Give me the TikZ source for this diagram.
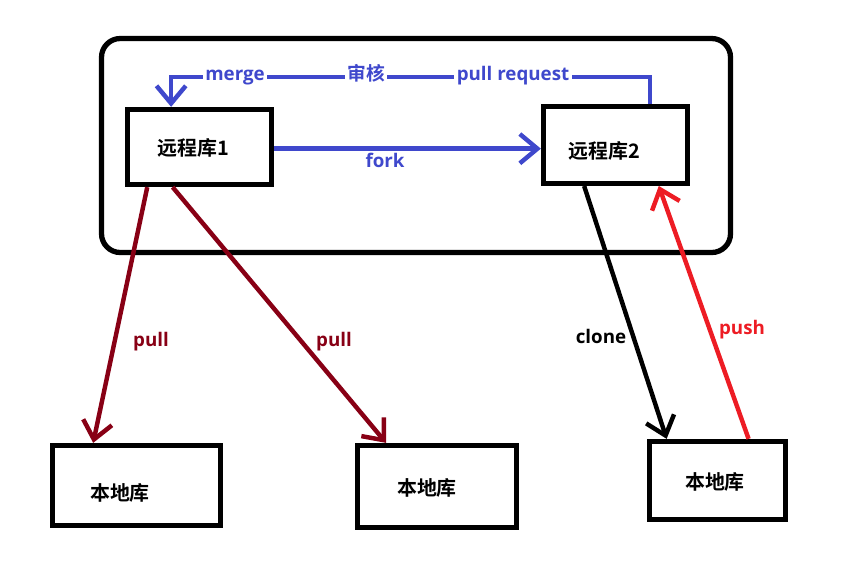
\documentclass[tikz,border=0pt]{standalone}
\usepackage{fontspec}
\setmainfont{Open Sans}
\newfontfamily\cjk{Noto Sans CJK SC}[BoldFont={Noto Sans CJK SC Bold}]
\usetikzlibrary{arrows.meta,calc}

\definecolor{gitblue}{RGB}{63,72,204}
\definecolor{pulldark}{RGB}{136,0,21}
\definecolor{pushred}{RGB}{237,28,36}

\tikzset{
  repo/.style={draw, line width=4.5pt, minimum width=#1*0.03cm, inner sep=0pt},
  repotext/.style={font=\cjk\bfseries\fontsize{17}{20}\selectfont},
  lbl/.style={font=\bfseries\fontsize{16}{19}\selectfont, inner sep=2pt, text height=1.6ex, text depth=.5ex},
  flow/.style={line width=3.8pt},
  barb/.style={-{Straight Barb[length=15pt,width=25pt]}},
}

\begin{document}
\begin{tikzpicture}[x=0.03cm, y=-0.03cm]
      \path[use as bounding box] (0, 0) rectangle (866, 574);

      % outer frame
      \draw[line width=4.5pt, rounded corners=16pt] (101.5, 38.5) rectangle (730.5, 252.5);

      % remote repos
      \node[repo=144, minimum height=2.25cm] (r1) at (199.5, 147) {};
      \node[repo=144, minimum height=2.3cm] (r2) at (615.5, 145) {};
      \node[repotext] (r1_t) at (193, 148) {远程库1};
      \node[repotext] (r2_t) at (604, 151) {远程库2};

      % local repos
      \foreach \i/\x/\y/\w/\h/\tx/\ty in {1/136.5/485.5/168/80/120/493,
                                         2/437/486.5/159/82/427/488,
                                         3/717.5/480.5/136/78/715/482} {
        \node[repo=\w, minimum height=\h*0.03cm] (L_\i) at (\x, \y) {};
        \node[repotext] (L_\i_t) at (\tx, \ty) {本地库};
      }

      % pull request / review / merge
      \coordinate (prstart) at ($(r2.north west)!0.73!(r2.north east)$);
      \coordinate (mgend) at ($(r1.north west)!0.31!(r1.north east)$);
      \node[lbl, gitblue] (preq) at (513, 77) {pull request};
      \node[lbl, gitblue, font=\cjk\bfseries\fontsize{16}{19}\selectfont] (review) at (366, 77) {审核};
      \node[lbl, gitblue] (merge) at (235, 77) {merge};
      \draw[flow, gitblue] (prstart) |- (preq);
      \draw[flow, gitblue] (preq) -- (review);
      \draw[flow, gitblue] (review) -- (merge);
      \draw[flow, gitblue, barb] (merge) -| (mgend);

      % fork
      \draw[flow, gitblue, barb] ([yshift=-0.05cm]r1.east) -- ([yshift=-0.05cm]r1.east -| r2.west);
      \node[lbl, gitblue] (fork) at (385, 164) {fork};

      % pull
      \draw[flow, pulldark, barb] ($(r1.south west)!0.15!(r1.south east)$) -- ($(L_1.north west)!0.25!(L_1.north east)$);
      \draw[flow, pulldark, barb] ($(r1.south west)!0.32!(r1.south east)$) -- ($(L_2.north west)!0.19!(L_2.north east)$);
      \node[lbl, pulldark] (pull_1) at (151, 343) {pull};
      \node[lbl, pulldark] (pull_2) at (334, 343) {pull};

      % clone / push
      \draw[flow, black, barb] ($(r2.south west)!0.29!(r2.south east)$) -- ($(L_3.north west)!0.14!(L_3.north east)$);
      \draw[flow, pushred, barb] ($(L_3.north west)!0.72!(L_3.north east)$) -- ($(r2.south west)!0.79!(r2.south east)$);
      \node[lbl] (clone) at (601, 340) {clone};
      \node[lbl, pushred] (push) at (742, 331) {push};
    \end{tikzpicture}
\end{document}
